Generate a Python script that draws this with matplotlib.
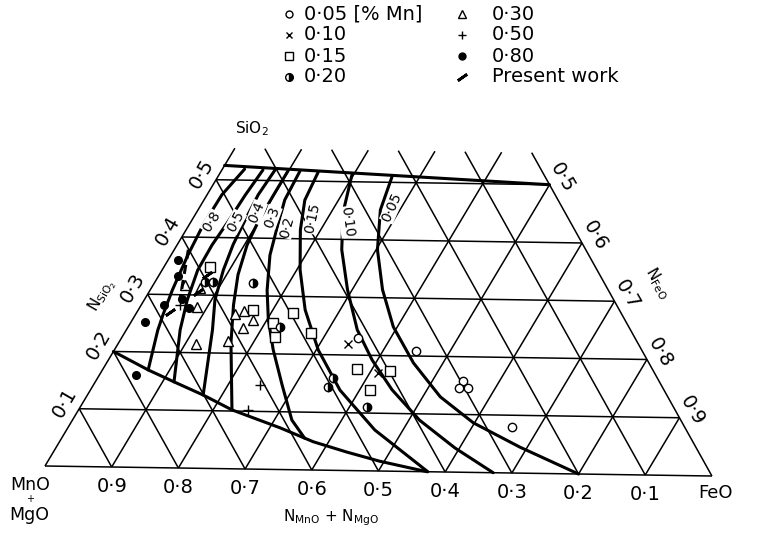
import numpy as np
import matplotlib
matplotlib.use("Agg")
import matplotlib.pyplot as plt

plt.rcParams['font.family'] = ['DejaVu Sans']
plt.rcParams['mathtext.default'] = 'regular'

# iso-[%Mn] curves, N_SiO2 and N_FeO
mn005_si = [0.509, 0.452, 0.383, 0.314, 0.250, 0.188, 0.130, 0.086, 0.045, 0.0]
mn005_fe = [0.259, 0.271, 0.302, 0.345, 0.394, 0.456, 0.526, 0.598, 0.689, 0.80]
mn010_si = [0.514, 0.446, 0.382, 0.313, 0.244, 0.192, 0.141, 0.089, 0.042, 0.0]
mn010_fe = [0.197, 0.218, 0.249, 0.293, 0.343, 0.392, 0.448, 0.516, 0.593, 0.672]
mn015_si = [0.516, 0.467, 0.415, 0.346, 0.277, 0.208, 0.139, 0.071, 0.0]
mn015_fe = [0.145, 0.150, 0.170, 0.205, 0.248, 0.303, 0.371, 0.458, 0.574]
mn020_si = [0.517, 0.467, 0.423, 0.371, 0.310, 0.259, 0.207, 0.147, 0.086, 0.055]
mn020_fe = [0.117, 0.120, 0.132, 0.147, 0.174, 0.202, 0.236, 0.280, 0.326, 0.361]
mn030_si = [0.517, 0.472, 0.428, 0.388, 0.336, 0.284, 0.218, 0.102]
mn030_fe = [0.099, 0.099, 0.100, 0.104, 0.117, 0.137, 0.167, 0.228]
mn040_si = [0.519, 0.475, 0.431, 0.388, 0.344, 0.292, 0.240, 0.127]
mn040_fe = [0.079, 0.076, 0.079, 0.083, 0.091, 0.105, 0.128, 0.172]
mn050_si = [0.518, 0.474, 0.427, 0.387, 0.343, 0.291, 0.239, 0.149]
mn050_fe = [0.061, 0.057, 0.055, 0.052, 0.053, 0.064, 0.080, 0.117]
mn080_si = [0.519, 0.474, 0.421, 0.369, 0.308, 0.265, 0.238, 0.169]
mn080_fe = [0.033, 0.022, 0.021, 0.025, 0.033, 0.041, 0.047, 0.068]
curve_labels = ['0·05', '0·10', '0·15', '0·2', '0·3', '0·4', '0·5', '0·8']

# phase boundaries
silica_si = [0.525, 0.50]
silica_fe = [0.0, 0.50]
lower_si = [0.20, 0.169, 0.149, 0.127, 0.102, 0.072, 0.049, 0.032, 0.017, 0.0]
lower_fe = [0.0, 0.068, 0.117, 0.172, 0.228, 0.316, 0.377, 0.436, 0.493, 0.573]

# experimental points (N_SiO2, N_FeO) by [%Mn]
p005_si = [0.230, 0.209, 0.158, 0.146, 0.146, 0.080]
p005_fe = [0.352, 0.449, 0.546, 0.546, 0.559, 0.659]
p010_si = [0.219, 0.170]
p010_fe = [0.342, 0.412]
p015_si = [0.349, 0.276, 0.271, 0.254, 0.229, 0.237, 0.176, 0.174, 0.140]
p015_fe = [0.068, 0.171, 0.233, 0.211, 0.227, 0.277, 0.378, 0.428, 0.416]
p020_si = [0.322, 0.247, 0.160, 0.144, 0.111, 0.323, 0.323]
p020_fe = [0.147, 0.226, 0.350, 0.350, 0.426, 0.074, 0.086]
p030_si = [0.317, 0.312, 0.279, 0.268, 0.274, 0.258, 0.244, 0.221, 0.215]
p030_fe = [0.047, 0.072, 0.085, 0.147, 0.158, 0.180, 0.172, 0.161, 0.116]
p050_si = [0.146, 0.102, 0.282]
p050_fe = [0.248, 0.252, 0.058]
p080_si = [0.360, 0.332, 0.293, 0.282, 0.277, 0.252, 0.160]
p080_fe = [0.015, 0.029, 0.055, 0.034, 0.074, 0.021, 0.054]
pw_si = [0.270, 0.305, 0.335]
pw_fe = [0.049, 0.073, 0.071]
pw_line_si = [0.378, 0.291]
pw_line_fe = [0.021, 0.053]

ticks = [0.1, 0.2, 0.3, 0.4, 0.5, 0.6, 0.7, 0.8, 0.9]
si_ticks = [0.1, 0.2, 0.3, 0.4, 0.5]
fe_ticks = [0.5, 0.6, 0.7, 0.8, 0.9]
si_top = 0.555

legend_labels = ['0·05 [% Mn]', '0·10', '0·15', '0·20', '0·30', '0·50', '0·80', 'Present work']

theta = np.deg2rad(0.86)   # the scan is turned slightly
def proj(fe, si):
    fe = np.asarray(fe, float)
    si = np.asarray(si, float)
    x = fe + si / 2
    y = si * np.sqrt(3) / 2
    return (x * np.cos(theta) + y * np.sin(theta),
            -x * np.sin(theta) + y * np.cos(theta))

def label(txt, fe, si, dx, dy, **kw):
    ax.annotate(txt, xy=proj(fe, si), xytext=(dx, dy), textcoords='offset points',
                ha='center', va='center', **kw)

fig = plt.figure(figsize=(7.6, 5.34), dpi=100)
ax = fig.add_axes([0, 0, 1, 1])
ax.set_xlim(-45 / 667, 715 / 667)
ax.set_ylim(-68 / 667, 466 / 667)
ax.axis('off')

thin = dict(color='black', lw=1.1, solid_capstyle='butt')
# grid
for s in si_ticks:
    ax.plot(*proj([0, 1 - s], [s, s]), **thin)
for f in ticks:
    top = min(1 - f, si_top)
    ax.plot(*proj([f, f], [0, top]), **thin)
    ax.plot(*proj([1 - f, 1 - f - top], [0, top]), **thin)
ax.plot(*proj([0, 0], [0, si_top]), **thin)
ax.plot(*proj([1, 1 - si_top], [0, si_top]), **thin)
ax.plot(*proj([0, 1], [0, 0]), **thin)

heavy = dict(color='black', lw=2.2, solid_capstyle='round')
ax.plot(*proj(silica_fe, silica_si), **heavy)
ax.plot(*proj(lower_fe, lower_si), **heavy)
curves = [(mn005_fe, mn005_si), (mn010_fe, mn010_si), (mn015_fe, mn015_si),
          (mn020_fe, mn020_si), (mn030_fe, mn030_si), (mn040_fe, mn040_si),
          (mn050_fe, mn050_si), (mn080_fe, mn080_si)]
for fe, si in curves:
    ax.plot(*proj(fe, si), **heavy)

# curve labels (fe, si, rotation)
lab_pos = [(0.286, 0.457, 66), (0.232, 0.430, -82), (0.178, 0.436, 78),
           (0.147, 0.420, 75), (0.116, 0.437, 70), (0.0895, 0.445, 68),
           (0.066, 0.4275, 62), (0.031, 0.4268, 58)]
for txt, (fe, si, rot) in zip(curve_labels, lab_pos):
    ax.text(*proj(fe, si), txt, rotation=rot, fontsize=10, ha='center', va='center',
            bbox=dict(facecolor='white', edgecolor='none', pad=0.3))

mk = dict(color='black', ls='none', mew=1.0)
ax.plot(*proj(p005_fe, p005_si), marker='o', mfc='white', ms=6, **mk)
ax.plot(*proj(p010_fe, p010_si), marker='x', ms=5.5, **mk)
ax.plot(*proj(p015_fe, p015_si), marker='s', mfc='white', ms=6.5, **mk)
ax.plot(*proj(p020_fe, p020_si), marker='o', fillstyle='right', mfc='black',
        mfcalt='white', ms=6, **mk)
ax.plot(*proj(p030_fe, p030_si), marker='^', mfc='white', ms=7, **mk)
ax.plot(*proj(p050_fe, p050_si), marker='+', ms=7, **mk)
ax.plot(*proj(p080_fe, p080_si), marker='o', mfc='black', ms=5.5, **mk)
ax.plot(*proj(pw_fe, pw_si), marker=(2, 2, -55), ms=8, color='black', ls='none', mew=2)
ax.plot(*proj(pw_line_fe, pw_line_si), color='black', lw=2.2, ls=(0, (3, 2)))

# axis tick labels
for v in ticks:
    label(f'0·{int(round(v * 10))}', 1 - v, 0, 0, -14, fontsize=14)
for s in si_ticks:
    label(f'0·{int(round(s * 10))}', 0, s, -10.5, 4.5, fontsize=14, rotation=60)
for f in fe_ticks:
    label(f'0·{int(round(f * 10))}', f, 1 - f, 9.5, 5, fontsize=14, rotation=-60)

label('MnO', 0, 0, -11, -13.5, fontsize=12.5)
label('+', 0, 0, -11, -24, fontsize=7)
label('MgO', 0, 0, -11, -35, fontsize=12.5)
label('FeO', 1, 0, 2.5, -12, fontsize=13)
label(r'N$_{MnO}$ + N$_{MgO}$', 0.42, 0, 4, -34, fontsize=11)
label(r'SiO$_2$', 0, si_top, 12, 14, fontsize=11)
label(r'N$_{SiO_2}$', 0, 0.3, -33, -1, fontsize=11, rotation=60)
label(r'N$_{FeO}$', 0.7, 0.3, 31, 13, fontsize=11, rotation=-60)

# legend, two columns laid out like the printed key
leg_marks = [dict(marker='o', mfc='white', ms=5),
             dict(marker='x', ms=5),
             dict(marker='s', mfc='white', ms=5.5),
             dict(marker='o', fillstyle='right', mfc='black', mfcalt='white', ms=5.5),
             dict(marker='^', mfc='white', ms=5.5),
             dict(marker='+', ms=6),
             dict(marker='o', mfc='black', ms=5),
             dict(marker=(2, 2, -55), ms=8, mew=2)]
rows_y = [14, 35, 56, 77]
for i, (lab, m) in enumerate(zip(legend_labels, leg_marks)):
    col, row = divmod(i, 4)
    mx, tx = (289, 304) if col == 0 else (462, 492)
    y = 1 - rows_y[row] / 534
    style = dict(color='black', ls='none', mew=1.0)
    style.update(m)
    ax.plot([mx / 760], [y], transform=fig.transFigure, clip_on=False, **style)
    fig.text(tx / 760, y, lab, fontsize=14, ha='left', va='center')

fig.savefig('out.png', dpi=100)
